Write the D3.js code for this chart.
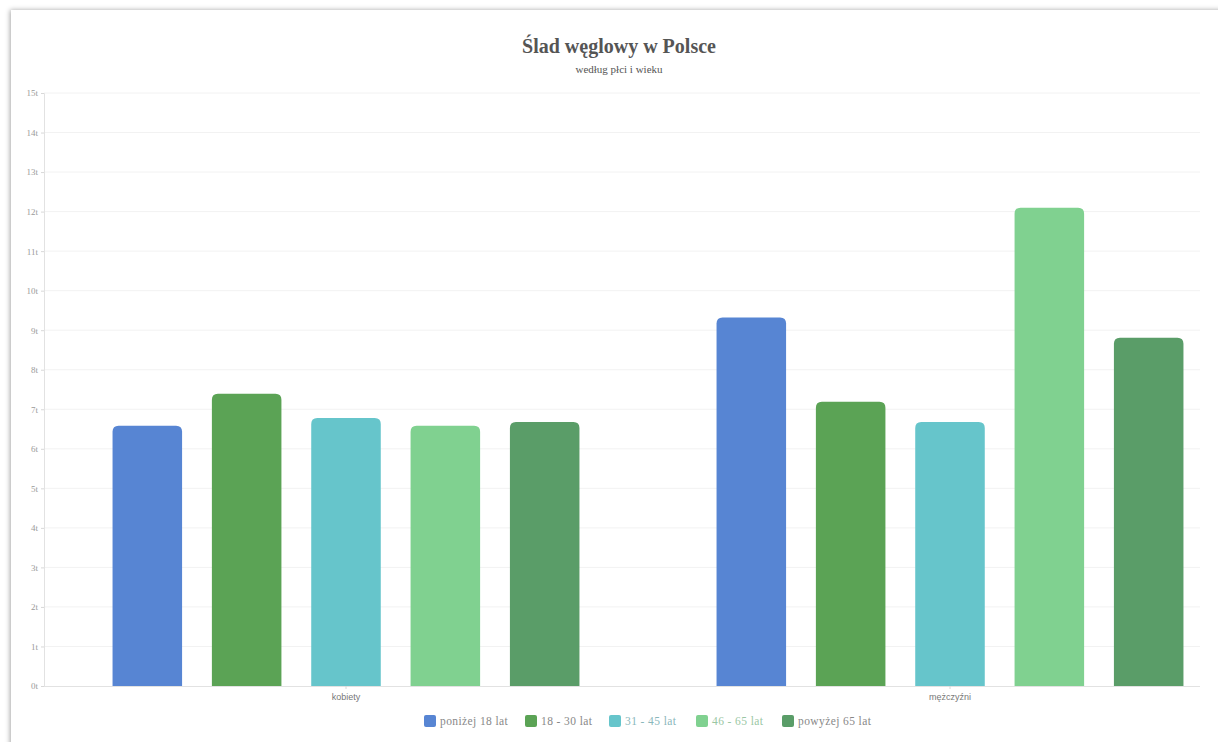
<!DOCTYPE html>
<html>
<head>
<meta charset="utf-8">
<script src="https://cdn.jsdelivr.net/npm/d3@7"></script>
<style>
  body { margin: 0; background: #ffffff; }
  #chart { width: 1218px; height: 742px; }
</style>
</head>
<body>
<div id="chart"></div>
<script>
// Data
const genders = ["kobiety", "mężczyźni"];
const ageGroups = ["poniżej 18 lat", "18 - 30 lat", "31 - 45 lat", "46 - 65 lat", "powyżej 65 lat"];
const womenValues = [6.58, 7.39, 6.78, 6.58, 6.68];
const menValues = [9.32, 7.19, 6.68, 12.1, 8.81];
const yTicks = [0, 1, 2, 3, 4, 5, 6, 7, 8, 9, 10, 11, 12, 13, 14, 15];
const colors = ["#5785d3", "#5ba355", "#66c5cb", "#80d190", "#5a9d68"];

const width = 1218;
const height = 742;

const svg = d3.select("#chart")
    .append("svg")
    .attr("width", width)
    .attr("height", height);

// card with a soft shadow
const defs = svg.append("defs");
const shadow = defs.append("filter").attr("id", "shadow")
    .attr("x", "-5%").attr("y", "-5%").attr("width", "110%").attr("height", "110%");
shadow.append("feDropShadow")
    .attr("dx", -1).attr("dy", 0).attr("stdDeviation", 2.5)
    .attr("flood-color", "#000").attr("flood-opacity", 0.35);

svg.append("rect")
    .attr("x", 11).attr("y", 10)
    .attr("width", 1220).attr("height", 760)
    .attr("fill", "#fff")
    .attr("filter", "url(#shadow)");

// scales
const y = d3.scaleLinear().domain([0, 15]).range([686, 93]);
const x0 = d3.scaleBand().domain(genders).range([44, 1252]).padding(0);
const x1 = d3.scaleBand().domain(ageGroups).range([0, x0.bandwidth()])
    .paddingInner(0.3).paddingOuter(0.69);

// grid lines
svg.append("g")
    .selectAll("line")
    .data(yTicks.slice(1))
    .enter()
    .append("line")
    .attr("x1", 44).attr("x2", 1200)
    .attr("y1", d => y(d)).attr("y2", d => y(d))
    .attr("stroke", "#f2f2f2")
    .attr("stroke-width", 1);

// y axis
const yAxis = svg.append("g")
    .attr("transform", "translate(44,0)")
    .call(d3.axisLeft(y).tickValues(yTicks).tickSize(3).tickFormat(d => d + "t"));
yAxis.select(".domain").attr("stroke", "#e2e2e2");
yAxis.selectAll(".tick line").attr("stroke", "#d8d8d8");
yAxis.selectAll("text")
    .attr("fill", "#9a9a9a")
    .attr("x", -6)
    .style("font-family", "Liberation Serif, serif")
    .style("font-size", "9px");

// x axis
const xAxis = svg.append("g")
    .attr("transform", "translate(0,686)")
    .call(d3.axisBottom(x0).tickSize(3).tickSizeOuter(0));
xAxis.select(".domain").attr("d", "M44,0.5H1200").attr("stroke", "#e2e2e2");
xAxis.selectAll(".tick line").attr("stroke", "#d8d8d8");
xAxis.selectAll("text")
    .attr("fill", "#777")
    .attr("dy", "0.9em")
    .style("font-family", "Liberation Sans, sans-serif")
    .style("font-size", "9px");

// bars with rounded tops
function barPath(xl, w, yt, yb, r) {
    r = Math.min(r, (yb - yt));
    return `M${xl},${yb}V${yt + r}Q${xl},${yt} ${xl + r},${yt}H${xl + w - r}Q${xl + w},${yt} ${xl + w},${yt + r}V${yb}Z`;
}

const rows = [
    { gender: genders[0], values: womenValues },
    { gender: genders[1], values: menValues }
];

const groups = svg.append("g")
    .selectAll("g")
    .data(rows)
    .enter()
    .append("g")
    .attr("transform", d => `translate(${x0(d.gender)},0)`);

groups.selectAll("path")
    .data(d => d.values.map((v, i) => ({ key: ageGroups[i], value: v, i: i })))
    .enter()
    .append("path")
    .attr("d", d => barPath(x1(d.key), x1.bandwidth(), y(d.value), y(0), 6))
    .attr("fill", d => colors[d.i]);

// title
svg.append("text")
    .attr("x", 619).attr("y", 53)
    .attr("text-anchor", "middle")
    .attr("fill", "#555")
    .style("font-family", "Liberation Serif, serif")
    .style("font-size", "20px")
    .style("font-weight", "bold")
    .text("Ślad węglowy w Polsce");

svg.append("text")
    .attr("x", 619).attr("y", 73)
    .attr("text-anchor", "middle")
    .attr("fill", "#555")
    .style("font-family", "Liberation Serif, serif")
    .style("font-size", "11px")
    .text("według płci i wieku");

// legend
const legendX = [424, 525, 609, 696, 782];
const legend = svg.append("g")
    .selectAll("g")
    .data(ageGroups)
    .enter()
    .append("g")
    .attr("transform", (d, i) => `translate(${legendX[i]},715)`);

legend.append("rect")
    .attr("width", 12).attr("height", 12).attr("rx", 2)
    .attr("fill", (d, i) => colors[i]);

legend.append("text")
    .attr("x", 16).attr("y", 10)
    .attr("fill", (d, i) => i === 2 ? "#8ab7bb" : i === 3 ? "#9ac7a4" : "#888")
    .style("font-family", "Liberation Serif, serif")
    .style("font-size", "11.5px")
    .style("letter-spacing", "0.4px")
    .text(d => d);
</script>
</body>
</html>
